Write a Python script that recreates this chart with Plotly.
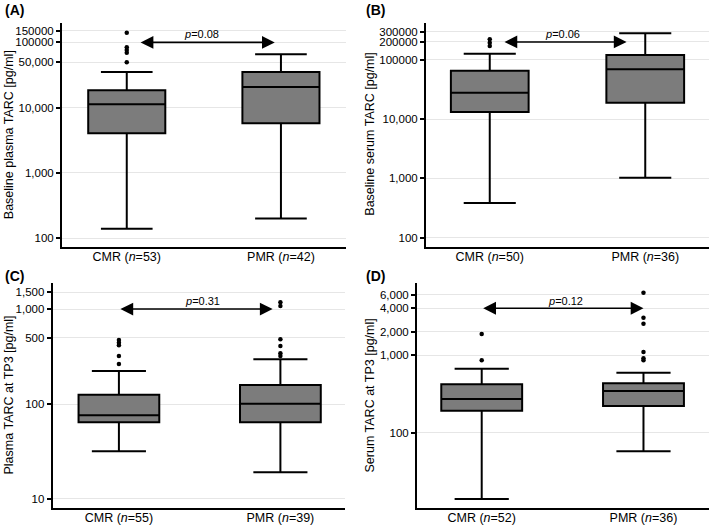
import plotly.graph_objects as go
import math

groups = ["CMR", "PMR"]

# Panel A: Baseline plasma TARC
a_labels = ["CMR (<i>n</i>=53)", "PMR (<i>n</i>=42)"]
a_q1 = [4055, 5770]
a_med = [11270, 20750]
a_q3 = [18460, 35200]
a_lo = [140, 200]
a_hi = [35200, 65700]
a_out_cmr = [140600, 84100, 76500, 69500, 49600]
a_out_pmr = []
a_ticks = [100, 1000, 10000, 50000, 100000, 150000]
a_ticktext = ["100", "1,000", "10,000", "50,000", "100000", "150000"]
a_p = "p=0.08"

# Panel B: Baseline serum TARC
b_labels = ["CMR (<i>n</i>=50)", "PMR (<i>n</i>=36)"]
b_q1 = [13180, 18900]
b_med = [27900, 69200]
b_q3 = [65500, 120500]
b_lo = [385, 1027]
b_hi = [126700, 280000]
b_out_cmr = [222000, 194000, 171000]
b_out_pmr = []
b_ticks = [100, 1000, 10000, 100000, 200000, 300000]
b_ticktext = ["100", "1,000", "10,000", "100000", "200000", "300000"]
b_p = "p=0.06"

# Panel C: Plasma TARC at TP3
c_labels = ["CMR (<i>n</i>=55)", "PMR (<i>n</i>=39)"]
c_q1 = [64.2, 64.2]
c_med = [76, 100.7]
c_q3 = [125.3, 158.5]
c_lo = [31.8, 19.1]
c_hi = [222, 296]
c_out_cmr = [472, 442, 415, 320, 264]
c_out_pmr = [1177, 1076, 480, 408, 342, 320]
c_ticks = [10, 100, 500, 1000, 1500]
c_ticktext = ["10", "100", "500", "1,000", "1,500"]
c_p = "p=0.31"

# Panel D: Serum TARC at TP3
d_labels = ["CMR (<i>n</i>=52)", "PMR (<i>n</i>=36)"]
d_q1 = [192, 221]
d_med = [271.5, 344]
d_q3 = [420, 432]
d_lo = [14, 57.6]
d_hi = [666, 592]
d_out_cmr = [1862, 855]
d_out_pmr = [6340, 3020, 2530, 1093, 907, 855]
d_ticks = [100, 1000, 2000, 4000, 6000]
d_ticktext = ["100", "1,000", "2,000", "4,000", "6,000"]
d_p = "p=0.12"

panels = [
    dict(key="", q1=a_q1, med=a_med, q3=a_q3, lo=a_lo, hi=a_hi, oc=a_out_cmr, op=a_out_pmr,
         labels=a_labels, ticks=a_ticks, ticktext=a_ticktext, p=a_p,
         title="Baseline plasma TARC [pg/ml]", tag="(A)",
         xdom=[62/709, 345.7/709], ydom=[1-246.7/527, 1-22.7/527],
         xr=[-0.42, 1.42], yr=[1.871, 5.302],
         arrow=(0.08, 0.96, 100000), ptxt=(0.483, 5.129),
         tx=8.5, tagx=3, tagy=10),
    dict(key="2", q1=b_q1, med=b_med, q3=b_q3, lo=b_lo, hi=b_hi, oc=b_out_cmr, op=b_out_pmr,
         labels=b_labels, ticks=b_ticks, ticktext=b_ticktext, p=b_p,
         title="Baseline serum TARC [pg/ml]", tag="(B)",
         xdom=[426/709, 1.0], ydom=[1-246.7/527, 1-22.7/527],
         xr=[-0.41, 1.41], yr=[1.848, 5.626],
         arrow=(0.085, 0.88, 200000), ptxt=(0.47, 5.43),
         tx=370.0, tagx=364, tagy=10),
    dict(key="3", q1=c_q1, med=c_med, q3=c_q3, lo=c_lo, hi=c_hi, oc=c_out_cmr, op=c_out_pmr,
         labels=c_labels, ticks=c_ticks, ticktext=c_ticktext, p=c_p,
         title="Plasma TARC at TP3 [pg/ml]", tag="(C)",
         xdom=[52.7/709, 345/709], ydom=[1-507.7/527, 1-283.3/527],
         xr=[-0.41, 1.40], yr=[0.908, 3.271],
         arrow=(0.0, 0.952, 1000), ptxt=(0.516, 3.084),
         tx=8.0, tagx=3, tagy=276),
    dict(key="4", q1=d_q1, med=d_med, q3=d_q3, lo=d_lo, hi=d_hi, oc=d_out_cmr, op=d_out_pmr,
         labels=d_labels, ticks=d_ticks, ticktext=d_ticktext, p=d_p,
         title="Serum TARC at TP3 [pg/ml]", tag="(D)",
         xdom=[417/709, 1.0], ydom=[1-507.7/527, 1-283.3/527],
         xr=[-0.40, 1.405], yr=[1.035, 3.923],
         arrow=(0.0, 1.0, 4000), ptxt=(0.519, 3.699),
         tx=369.0, tagx=364, tagy=276),
]

fig = go.Figure()
annotations = []
layout = dict(
    width=709, height=527,
    margin=dict(l=0, r=0, t=0, b=0),
    paper_bgcolor="white", plot_bgcolor="white",
    showlegend=False, boxmode="overlay",
    font=dict(family="Liberation Sans, Arial, sans-serif", color="black"),
)

for pn in panels:
    k = pn["key"]
    xa = "x" + k
    ya = "y" + k
    fig.add_trace(go.Box(
        x=groups, q1=pn["q1"], median=pn["med"], q3=pn["q3"],
        lowerfence=pn["lo"], upperfence=pn["hi"],
        xaxis=xa, yaxis=ya, width=0.5, whiskerwidth=0.67,
        fillcolor="#7c7c7c", line=dict(color="black", width=2),
        boxpoints=False, hoverinfo="skip",
    ))
    ox = ["CMR"] * len(pn["oc"]) + ["PMR"] * len(pn["op"])
    oy = pn["oc"] + pn["op"]
    if oy:
        fig.add_trace(go.Scatter(
            x=ox, y=oy, mode="markers", xaxis=xa, yaxis=ya,
            marker=dict(color="black", size=4.5), hoverinfo="skip",
        ))
    layout["xaxis" + k] = dict(
        domain=pn["xdom"], anchor=ya, range=pn["xr"],
        type="category", categoryorder="array", categoryarray=groups,
        tickvals=groups, ticktext=pn["labels"], ticks="",
        ticklabelstandoff=-3,
        showgrid=False, zeroline=False, showline=True, linecolor="black", linewidth=2,
        tickfont=dict(size=12.5, color="black"), automargin=False,
    )
    layout["yaxis" + k] = dict(
        domain=pn["ydom"], anchor=xa, type="log", range=pn["yr"],
        tickvals=pn["ticks"], ticktext=pn["ticktext"],
        ticks="outside", ticklen=4, tickwidth=1.5, tickcolor="black",
        showgrid=True, gridcolor="#e6e6e6", gridwidth=1,
        zeroline=False, showline=True, linecolor="black", linewidth=2,
        tickfont=dict(size=11.5, color="black"), automargin=False,
    )
    x0, x1, yv = pn["arrow"]
    annotations.append(dict(
        xref=xa, yref=ya, axref=xa, ayref=ya,
        x=x1, y=math.log10(yv), ax=x0, ay=math.log10(yv),
        text="", showarrow=True, arrowside="end+start",
        arrowhead=2, startarrowhead=2, arrowsize=1.6, startarrowsize=1.6,
        arrowwidth=1.6, arrowcolor="black",
    ))
    annotations.append(dict(
        xref=xa, yref=ya, x=pn["ptxt"][0], y=pn["ptxt"][1],
        text="<i>p</i>" + pn["p"][1:], showarrow=False,
        font=dict(size=11, color="black"), xanchor="center", yanchor="middle",
    ))
    annotations.append(dict(
        xref="paper", yref="paper", x=pn["tx"] / 709,
        y=(pn["ydom"][0] + pn["ydom"][1]) / 2,
        text=pn["title"], textangle=-90, showarrow=False,
        font=dict(size=12.5, color="black"), xanchor="center", yanchor="middle",
    ))
    annotations.append(dict(
        xref="paper", yref="paper", x=pn["tagx"] / 709, y=1 - pn["tagy"] / 527,
        text="<b>" + pn["tag"] + "</b>", showarrow=False,
        font=dict(size=14, color="black"), xanchor="left", yanchor="middle",
    ))

layout["annotations"] = annotations
fig.update_layout(**layout)
fig.write_html("out.html", config={"displayModeBar": False},
               post_script="document.body.style.margin='0';")
